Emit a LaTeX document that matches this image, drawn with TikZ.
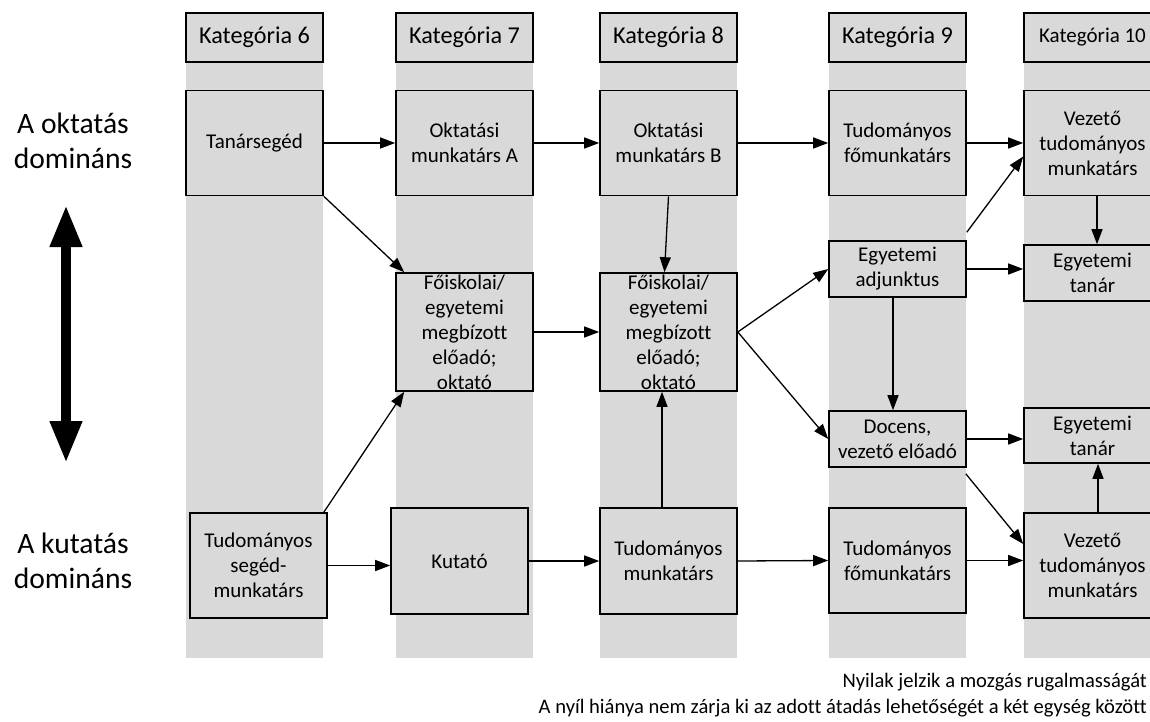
\documentclass[tikz,border=0pt]{standalone}
\usepackage{fontspec}
\setmainfont{Carlito}[Ligatures=NoCommon]
\usetikzlibrary{arrows.meta,calc}
\definecolor{boxgray}{HTML}{D9D9D9}
\begin{document}
\begin{tikzpicture}[x=1pt,y=-1pt,
  box/.style={draw=black, line width=1.6pt, fill=boxgray, minimum width=137pt, inner sep=0pt, align=center, font=\fontsize{21}{25}\selectfont},
  hdr/.style={box, minimum height=49pt, font=\fontsize{24.2}{28}\selectfont},
  conn/.style={line width=1.3pt, -{Triangle[length=15pt,width=11pt]}},
  bigarrow/.style={line width=10pt, {Triangle[length=42pt,width=30pt]}-{Triangle[length=42pt,width=30pt]}},
  side/.style={align=center, font=\fontsize{29.6}{35}\selectfont, inner sep=0pt},
  note/.style={font=\fontsize{20.6}{25}\selectfont, inner sep=0pt, anchor=base east}
]
\clip (0,0) rectangle (1150,722);
\fill[white] (0,0) rectangle (1150,722);
% column strips
\fill[boxgray] (186,62) rectangle (323,658);
\fill[boxgray] (396,62) rectangle (533,658);
\fill[boxgray] (600,62) rectangle (737,658);
\fill[boxgray] (829,62) rectangle (966,658);
\fill[boxgray] (1024,62) rectangle (1161,658);
% headers
\node[hdr] (h6) at (254.5,37.5) {Kategória 6};
\node[hdr] (h7) at (464.5,37.5) {Kategória 7};
\node[hdr] (h8) at (668.5,37.5) {Kategória 8};
\node[hdr] (h9) at (897.5,37.5) {Kategória 9};
\node[hdr, font=\fontsize{21}{24}\selectfont] (h10) at (1092.5,37.5) {Kategória 10};
% row 1
\node[box, minimum height=105pt] (tan) at (254.5,143) {Tanársegéd};
\node[box, minimum height=105pt] (okta) at (464.5,143) {Oktatási\\munkatárs A};
\node[box, minimum height=105pt] (oktb) at (668.5,143) {Oktatási\\munkatárs B};
\node[box, minimum height=105pt] (tf1) at (897.5,143) {Tudományos\\főmunkatárs};
\node[box, minimum height=105pt] (vez1) at (1092.5,143) {Vezető\\tudományos\\munkatárs};
% middle
\node[box, minimum height=118pt] (fo7) at (464.5,332) {Főiskolai/\\egyetemi\\megbízott\\előadó;\\oktató};
\node[box, minimum height=118pt] (fo8) at (668.5,332) {Főiskolai/\\egyetemi\\megbízott\\előadó;\\oktató};
\node[box, minimum height=56pt] (adj) at (897.5,269) {Egyetemi\\adjunktus};
\node[box, minimum height=56pt] (egy1) at (1092.5,273) {Egyetemi\\tanár};
\node[box, minimum height=56pt] (doc) at (897.5,439) {Docens,\\vezető előadó};
\node[box, minimum height=55pt] (egy2) at (1092.5,435.5) {Egyetemi\\tanár};
% bottom row
\node[box, minimum height=105pt] (seged) at (258.5,565.5) {Tudományos\\segéd-\\munkatárs};
\node[box, minimum height=106pt] (kut) at (459.5,561) {Kutató};
\node[box, minimum height=106pt] (tudm) at (668.5,561) {Tudományos\\munkatárs};
\node[box, minimum height=105pt] (tf2) at (897.5,560.5) {Tudományos\\főmunkatárs};
\node[box, minimum height=105pt] (vez2) at (1092.5,565.5) {Vezető\\tudományos\\munkatárs};
% side labels
\node[side] (ok) at (73,141) {A oktatás\\domináns};
\node[side] (ku) at (73,561) {A kutatás\\domináns};
\coordinate (dt) at (66,205);
\coordinate (db) at (66,463);
\draw[bigarrow] (dt) -- (db);
% connectors
\draw[conn] (tan.east) -- (okta.west);
\draw[conn] (okta.east) -- (oktb.west);
\draw[conn] (oktb.east) -- (tf1.west);
\draw[conn] (tf1.east) -- (vez1.west);
\draw[conn] (tan.south east) -- ($(fo7.north west)+(9,0)$);
\draw[conn] ($(seged.north east)+(-4,0)$) -- ($(fo7.south west)+(9,0)$);
\draw[conn] (fo7.east) -- (fo8.west);
\draw[conn] (oktb.south) -- ($(fo8.north)+(-4,0)$);
\draw[conn] ($(tudm.north)+(-6.5,0)$) -- ($(fo8.south)+(-6.5,0)$);
\draw[conn] (fo8.east) -- (adj.west);
\draw[conn] (fo8.east) -- (doc.west);
\draw[conn] (adj.east) -- (adj.east -| egy1.west);
\draw[conn] ($(adj.south)+(-4.5,0)$) -- ($(doc.north)+(-4.5,0)$);
\draw[conn] (doc.east) -- (doc.east -| egy2.west);
\draw[conn] ($(vez1.south)+(4.5,0)$) -- ($(egy1.north)+(4.5,0)$);
\draw[conn] ($(vez2.north)+(5.5,0)$) -- ($(egy2.south)+(5.5,0)$);
\draw[conn] ($(adj.north east)+(0,-8)$) -- ($(vez1.west)+(0,13.5)$);
\draw[conn] ($(doc.south east)+(-1,6)$) -- ($(vez2.west)+(0,-21.5)$);
\draw[conn] (seged.east) -- (seged.east -| kut.west);
\draw[conn] (kut.east) -- (tudm.west);
\draw[conn] (tudm.east) -- (tf2.west);
\draw[conn] (tf2.east) -- (tf2.east -| vez2.west);
% notes
\node[note] (n1) at (1147,687) {Nyilak jelzik a mozgás rugalmasságát};
\node[note] (n2) at (1147,713) {A nyíl hiánya nem zárja ki az adott átadás lehetőségét a két egység között};
\end{tikzpicture}
\end{document}
